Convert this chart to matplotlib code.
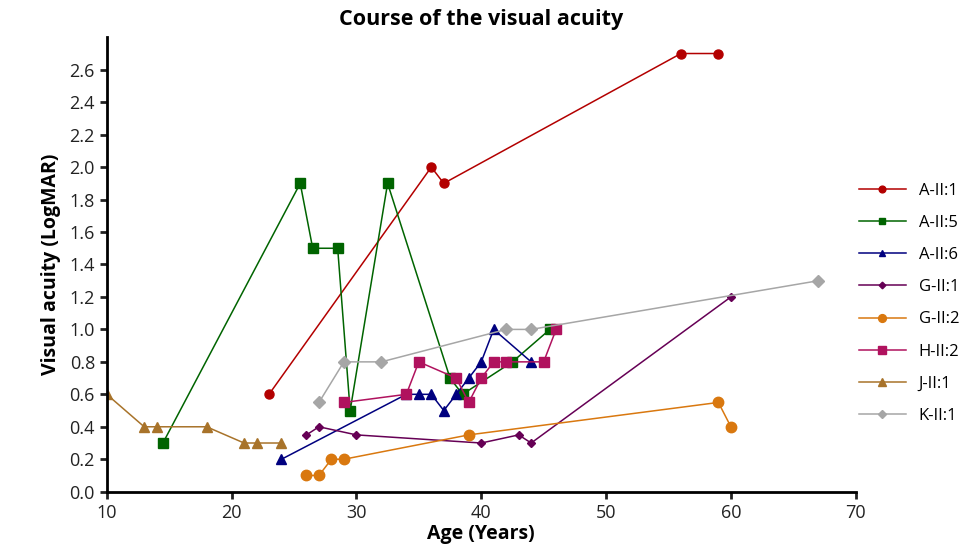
import matplotlib
matplotlib.use("Agg")
import matplotlib.pyplot as plt

plt.rcParams['font.family'] = ['Open Sans', 'DejaVu Sans']

# ages and visual acuity (LogMAR) per patient
a1_age = [23, 36, 37, 56, 59]
a1_va = [0.6, 2.0, 1.9, 2.7, 2.7]

a5_age = [14.5, 25.5, 26.5, 28.5, 29.5, 32.5, 37.5, 38.5, 42.5, 45.5]
a5_va = [0.3, 1.9, 1.5, 1.5, 0.5, 1.9, 0.7, 0.6, 0.8, 1.0]

a6_age = [24, 34, 35, 36, 37, 38, 39, 40, 41, 44]
a6_va = [0.2, 0.6, 0.6, 0.6, 0.5, 0.6, 0.7, 0.8, 1.0, 0.8]

g1_age = [26, 27, 30, 40, 43, 44, 60]
g1_va = [0.35, 0.4, 0.35, 0.3, 0.35, 0.3, 1.2]

g2_age = [26, 27, 28, 29, 39, 59, 60]
g2_va = [0.1, 0.1, 0.2, 0.2, 0.35, 0.55, 0.4]

h2_age = [29, 34, 35, 38, 39, 40, 41, 42, 45, 46]
h2_va = [0.55, 0.6, 0.8, 0.7, 0.55, 0.7, 0.8, 0.8, 0.8, 1.0]

j1_age = [10, 13, 14, 18, 21, 22, 24]
j1_va = [0.6, 0.4, 0.4, 0.4, 0.3, 0.3, 0.3]

k1_age = [27, 29, 32, 42, 44, 67]
k1_va = [0.55, 0.8, 0.8, 1.0, 1.0, 1.3]

series = [
    ("A-II:1", a1_age, a1_va, '#B30000', 'o', 6.5),
    ("A-II:5", a5_age, a5_va, '#006400', 's', 6.5),
    ("A-II:6", a6_age, a6_va, '#00007F', '^', 6.5),
    ("G-II:1", g1_age, g1_va, '#660055', 'D', 4.5),
    ("G-II:2", g2_age, g2_va, '#D9780F', 'o', 7.5),
    ("H-II:2", h2_age, h2_va, '#B0125E', 's', 7.5),
    ("J-II:1", j1_age, j1_va, '#A8732A', '^', 7.5),
    ("K-II:1", k1_age, k1_va, '#A6A6A6', 'D', 6),
]

fig = plt.figure(figsize=(9.59, 5.59), dpi=100)
ax = fig.add_axes([0.1113, 0.1204, 0.7810, 0.8129])

for name, x, y, c, m, ms in series:
    ax.plot(x, y, color=c, marker=m, markersize=ms, linewidth=1.1, label=name)

ax.set_xlim(10, 70)
ax.set_ylim(0, 2.8)
ax.set_xticks(range(10, 71, 10))
ax.set_yticks([i / 10 for i in range(0, 27, 2)])
ax.set_yticklabels([f"{i / 10:.1f}" for i in range(0, 27, 2)])

for s in ['top', 'right']:
    ax.spines[s].set_visible(False)
for s in ['left', 'bottom']:
    ax.spines[s].set_linewidth(2)
ax.tick_params(width=2, length=5, labelsize=13, colors='#222222')

ax.set_title("Course of the visual acuity", fontsize=15.5, fontweight='bold', pad=9)
ax.set_xlabel("Age (Years)", fontsize=14, fontweight='bold', labelpad=2)
ax.set_ylabel("Visual acuity (LogMAR)", fontsize=14, fontweight='bold', labelpad=6)

fig.legend(loc='upper left', bbox_to_anchor=(0.88, 0.70), frameon=False,
           fontsize=12, labelspacing=0.97, handlelength=2.8, handletextpad=0.78,
           markerscale=0.75)

fig.savefig("out.png", dpi=100)
